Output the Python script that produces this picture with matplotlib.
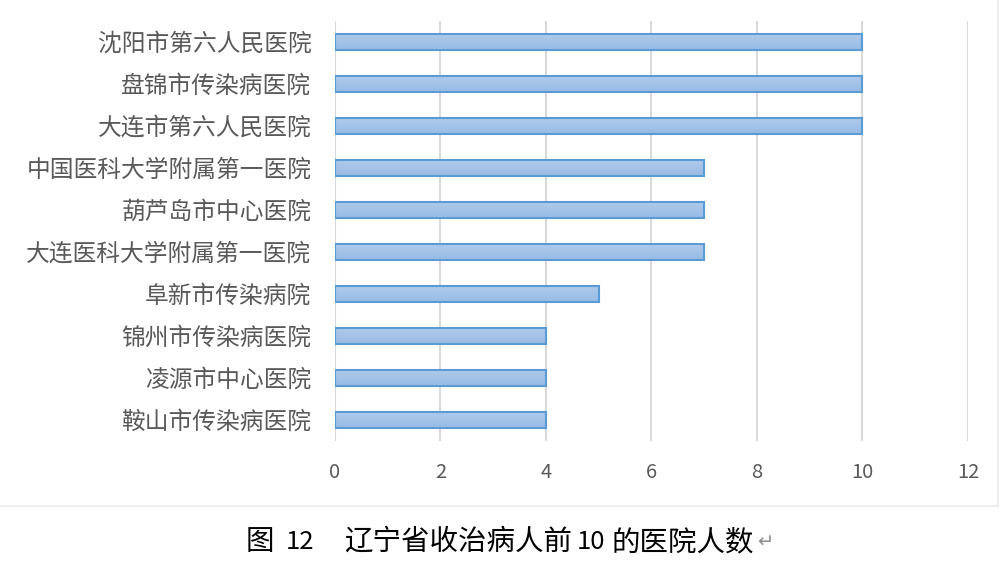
import numpy as np
import matplotlib.pyplot as plt
from matplotlib.colors import LinearSegmentedColormap
from matplotlib.lines import Line2D

plt.rcParams['font.family'] = ['Noto Sans CJK SC', 'DejaVu Sans']

hospitals = ["沈阳市第六人民医院", "盘锦市传染病医院", "大连市第六人民医院",
             "中国医科大学附属第一医院", "葫芦岛市中心医院", "大连医科大学附属第一医院",
             "阜新市传染病院", "锦州市传染病医院", "凌源市中心医院", "鞍山市传染病医院"]
counts = [10, 10, 10, 7, 7, 7, 5, 4, 4, 4]
xticks = [0, 2, 4, 6, 8, 10, 12]
# caption pieces (Word-style caption below the chart)
caption_parts = ["图", "12", "辽宁省收治病人前", "10", "的医院人数"]
caption_x = [246, 286, 344, 577, 611]

fig = plt.figure(figsize=(10.03, 5.62), dpi=100)
ax = fig.add_axes([0.334, 0.2153, 0.631, 0.7473])

# bars with a light vertical gradient, like the office chart style
cmap = LinearSegmentedColormap.from_list("bar", ["#b1cbeb", "#97bbe5"])
grad = np.linspace(0, 1, 50).reshape(-1, 1)
ypos = np.arange(len(hospitals))
h = 0.4
for y, v in zip(ypos, counts):
    ax.imshow(grad, extent=[0, v, y + h / 2, y - h / 2], aspect='auto', cmap=cmap,
              origin='upper', zorder=2, interpolation='bilinear')
ax.barh(ypos, counts, height=h, facecolor='none', edgecolor='#5b9bd5',
        linewidth=1.5, zorder=3)

ax.set_xlim(0, 12)
ax.set_ylim(len(hospitals) - 0.5, -0.5)
ax.set_xticks(xticks)
ax.set_yticks(ypos)
ax.set_yticklabels(hospitals, fontsize=17.1, color='#595959')
ax.tick_params(axis='x', labelsize=14.5, colors='#595959', length=0, pad=15)
ax.tick_params(axis='y', length=0, pad=17)
ax.grid(axis='x', color='#d9d9d9', linewidth=1.5, zorder=0)
ax.set_axisbelow(True)
for s in ax.spines.values():
    s.set_visible(False)

# chart frame edges
fig.add_artist(Line2D([0, 998 / 1003], [1 - 506 / 562] * 2, color='#eeeeee', lw=1.5))
fig.add_artist(Line2D([998 / 1003] * 2, [1, 1 - 506 / 562], color='#eeeeee', lw=1.5))

cy = 1 - 542 / 562
for txt, x in zip(caption_parts, caption_x):
    size = 18.5 if txt.isdigit() else 20.5
    fig.text(x / 1003, cy, txt, fontsize=size, color='black', va='center', ha='left',
             fontweight='light')
fig.text(757 / 1003, cy, "↵", fontsize=14, color='#8c8c8c', va='center', ha='left',
         family=['DejaVu Sans'])

fig.savefig("out.png", dpi=100)
